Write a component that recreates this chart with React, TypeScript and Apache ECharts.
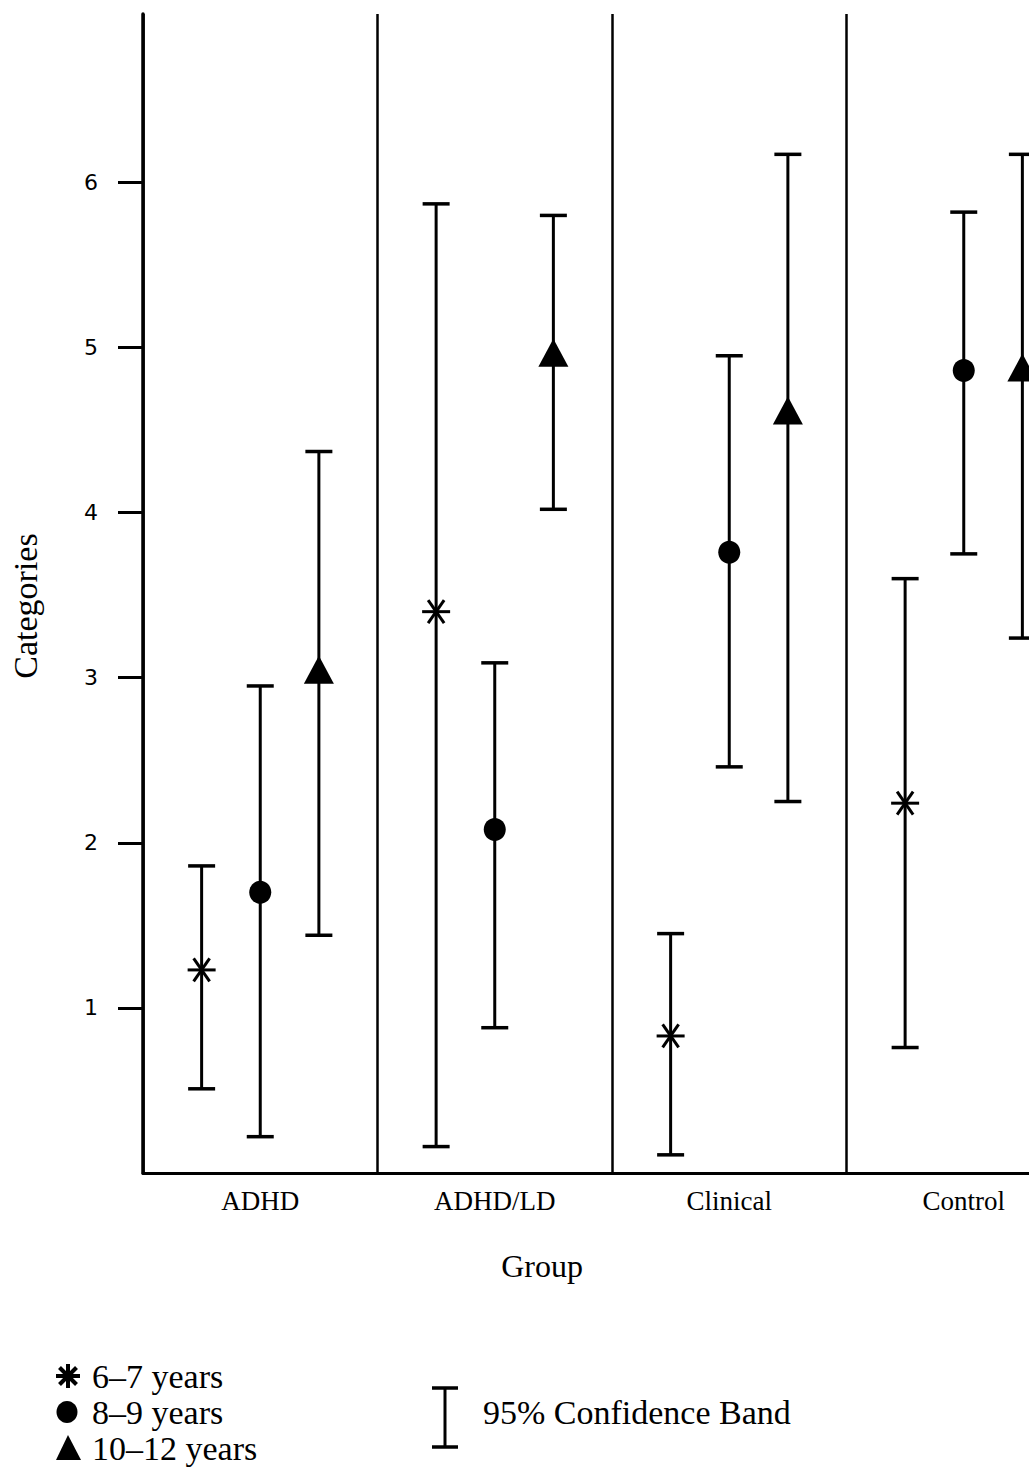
import React, { useEffect, useRef } from "react";
import * as echarts from "echarts";

const categories = ["ADHD", "ADHD/LD", "Clinical", "Control"];
const ageGroups = ["6–7 years", "8–9 years", "10–12 years"];
const yTickValues = [1, 2, 3, 4, 5, 6];

const mean67 = [1.23, 3.4, 0.83, 2.24];
const lower67 = [0.51, 0.16, 0.11, 0.76];
const upper67 = [1.86, 5.87, 1.45, 3.6];

const mean89 = [1.7, 2.08, 3.76, 4.86];
const lower89 = [0.22, 0.88, 2.46, 3.75];
const upper89 = [2.95, 3.09, 4.95, 5.82];

const mean1012 = [3.03, 4.95, 4.6, 4.86];
const lower1012 = [1.44, 4.02, 2.25, 3.24];
const upper1012 = [4.37, 5.8, 6.17, 6.17];

const means = [mean67, mean89, mean1012];
const lowers = [lower67, lower89, lower1012];
const uppers = [upper67, upper89, upper1012];

const SERIF = "'Liberation Serif', 'Times New Roman', serif";
const INK = "#000";

function starLines(x: number, y: number, r: number, dx: number, dy: number, w: number, vertical: boolean) {
  const st = { stroke: INK, lineWidth: w, lineCap: "butt" };
  const arr: any[] = [
    { type: "line", shape: { x1: x - r, y1: y, x2: x + r, y2: y }, style: st },
    { type: "line", shape: { x1: x - dx, y1: y - dy, x2: x + dx, y2: y + dy }, style: st },
    { type: "line", shape: { x1: x + dx, y1: y - dy, x2: x - dx, y2: y + dy }, style: st },
  ];
  if (vertical) {
    arr.push({ type: "line", shape: { x1: x, y1: y - r, x2: x, y2: y + r }, style: st });
  }
  return arr;
}

export default function App() {
  const ref = useRef<HTMLDivElement>(null);

  useEffect(() => {
    if (!ref.current) return;
    const chart = echarts.init(ref.current, null, { renderer: "svg" });

    const renderItem = (params: any, api: any) => {
      const ci = api.value(0);
      const m = api.value(1);
      const lo = api.value(2);
      const hi = api.value(3);
      const k = params.seriesIndex;
      const band = api.size([1, 0])[0];
      const p = api.coord([ci, m]);
      const x = p[0] + (k - 1) * band * 0.25;
      const y = p[1];
      const yLo = api.coord([ci, lo])[1];
      const yHi = api.coord([ci, hi])[1];
      const capW = 13.5;
      const lineStyle = { stroke: INK, lineWidth: 3 };
      const capStyle = { stroke: INK, lineWidth: 3.5 };
      const children: any[] = [
        { type: "line", shape: { x1: x, y1: yLo, x2: x, y2: yHi }, style: lineStyle },
        { type: "line", shape: { x1: x - capW, y1: yLo, x2: x + capW, y2: yLo }, style: capStyle },
        { type: "line", shape: { x1: x - capW, y1: yHi, x2: x + capW, y2: yHi }, style: capStyle },
      ];
      if (k === 0) {
        children.push(...starLines(x, y, 14, 8, 11.5, 3, false));
      } else if (k === 1) {
        children.push({ type: "ellipse", shape: { cx: x, cy: y, rx: 11, ry: 11.5 }, style: { fill: INK } });
      } else {
        children.push({
          type: "polygon",
          shape: { points: [[x, y - 17], [x - 15, y + 11], [x + 15, y + 11]] },
          style: { fill: INK },
        });
      }
      return { type: "group", children };
    };

    const series = ageGroups.map((name, k) => ({
      name,
      type: "custom",
      renderItem,
      clip: false,
      encode: { x: 0, y: [1, 2, 3] },
      data: categories.map((_, i) => [i, means[k][i], lowers[k][i], uppers[k][i]]),
    }));

    const legendY = [1376, 1412, 1448];
    const graphic: any[] = [
      {
        type: "text",
        x: 25,
        y: 606,
        rotation: Math.PI / 2,
        style: { text: "Categories", font: `34px ${SERIF}`, fill: INK, align: "center", verticalAlign: "middle" },
      },
      {
        type: "text",
        x: 542,
        y: 1266,
        style: { text: "Group", font: `32px ${SERIF}`, fill: INK, align: "center", verticalAlign: "middle" },
      },
      ...starLines(68, legendY[0], 12, 8.5, 8.5, 4, true),
      { type: "ellipse", shape: { cx: 67, cy: legendY[1], rx: 10.5, ry: 11 }, style: { fill: INK } },
      {
        type: "polygon",
        shape: { points: [[68, legendY[2] - 13], [56, legendY[2] + 12], [81, legendY[2] + 12]] },
        style: { fill: INK },
      },
      ...ageGroups.map((t, i) => ({
        type: "text",
        x: 92,
        y: legendY[i],
        style: { text: t, font: `34px ${SERIF}`, fill: INK, verticalAlign: "middle" },
      })),
      { type: "line", shape: { x1: 445, y1: 1388, x2: 445, y2: 1447 }, style: { stroke: INK, lineWidth: 3 } },
      { type: "line", shape: { x1: 432, y1: 1388, x2: 458, y2: 1388 }, style: { stroke: INK, lineWidth: 3.5 } },
      { type: "line", shape: { x1: 432, y1: 1447, x2: 458, y2: 1447 }, style: { stroke: INK, lineWidth: 3.5 } },
      {
        type: "text",
        x: 483,
        y: 1412,
        style: { text: "95% Confidence Band", font: `34px ${SERIF}`, fill: INK, verticalAlign: "middle" },
      },
    ];

    chart.setOption({
      animation: false,
      backgroundColor: "#fff",
      grid: { left: 143, top: 14, width: 938, height: 1159, containLabel: false, outerBoundsMode: "none" },
      xAxis: {
        type: "category",
        data: categories,
        boundaryGap: true,
        axisLine: { show: true, lineStyle: { color: INK, width: 3 } },
        axisTick: { show: false },
        axisLabel: { color: INK, fontFamily: SERIF, fontSize: 27, margin: 14, interval: 0 },
        splitLine: { show: true, interval: 0, lineStyle: { color: INK, width: 2.5 } },
      },
      yAxis: {
        type: "value",
        min: 0,
        max: 7.02,
        axisLine: { show: true, onZero: false, lineStyle: { color: INK, width: 3.5 } },
        axisTick: { show: true, inside: false, length: 25, customValues: yTickValues, lineStyle: { color: INK, width: 3 } },
        axisLabel: {
          color: INK,
          fontFamily: "'DejaVu Sans', sans-serif",
          fontSize: 22,
          margin: 45,
          customValues: yTickValues,
        },
        splitLine: { show: false },
      },
      series,
      graphic,
    });

    return () => chart.dispose();
  }, []);

  return (
    <div
      ref={ref}
      style={{ position: "absolute", left: 0, top: 0, width: 1029, height: 1469, background: "#fff" }}
    />
  );
}
